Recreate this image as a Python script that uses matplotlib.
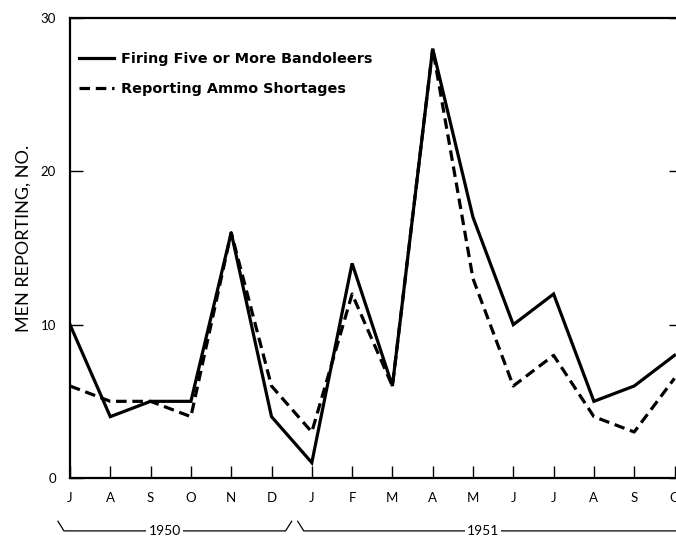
import matplotlib
matplotlib.use("Agg")
import matplotlib.pyplot as plt
from matplotlib.transforms import blended_transform_factory

months = ["J", "A", "S", "O", "N", "D", "J", "F", "M", "A", "M", "J", "J", "A", "S", "O"]
firing = [10, 4, 5, 5, 16, 4, 1, 14, 6, 28, 17, 10, 12, 5, 6, 8]
shortage = [6, 5, 5, 4, 16, 6, 3, 12, 6, 28, 13, 6, 8, 4, 3, 6.5]
yticks = [0, 10, 20, 30]
years = ["1950", "1951"]
label_solid = "Firing Five or More Bandoleers"
label_dash = "Reporting Ammo Shortages"
ylabel = "MEN REPORTING, NO."

W, H = 676, 540
fig = plt.figure(figsize=(W / 100, H / 100), dpi=100)
left, right, top, bottom = 70, 681, 18, 478
ax = fig.add_axes([left / W, (H - bottom) / H, (right - left) / W, (bottom - top) / H])

x = list(range(len(months)))
ax.plot(x, firing, color="black", lw=2.3, solid_joinstyle="miter", label=label_solid)
ax.plot(x, shortage, color="black", lw=2.3, dashes=(3.3, 1.8), label=label_dash)

ax.set_xlim(0, (right - left) / 40.3)
ax.set_ylim(0, 30)
ax.set_xticks(x)
ax.set_xticklabels(months)
ax.set_yticks(yticks)
ax.set_yticklabels([str(v) for v in yticks])

font = "Lato"
for s in ax.spines.values():
    s.set_linewidth(1.6)
ax.tick_params(axis="x", direction="in", length=9, width=1.0, pad=10, labelsize=9.5)
ax.tick_params(axis="y", direction="in", length=9, width=1.0, pad=10, labelsize=9.5, right=True)
for lab in ax.get_xticklabels() + ax.get_yticklabels():
    lab.set_fontfamily(font)

ax.set_ylabel(ylabel, fontsize=13, fontfamily=font)
ax.yaxis.set_label_coords(-0.062, 0.52)

leg = ax.legend(loc="upper left", bbox_to_anchor=(-0.006, 0.955), frameon=False,
                handlelength=2.4, handletextpad=0.45, labelspacing=1.12,
                prop={"family": "DejaVu Sans", "weight": "bold", "size": 10.4})

# year brackets below the axis
tr = blended_transform_factory(ax.transData, ax.transAxes)
yb, ys = -0.115, -0.094
ax.plot([-0.3, -0.15, 5.35, 5.5], [ys, yb, yb, ys], color="black", lw=0.9,
        transform=tr, clip_on=False)
ax.plot([5.65, 5.8, 16], [ys, yb, yb], color="black", lw=0.9,
        transform=tr, clip_on=False)
ax.text(2.35, yb, years[0], transform=tr, ha="center", va="center", fontsize=10,
        fontfamily=font, bbox=dict(fc="white", ec="none", pad=1.5))
ax.text(10.25, yb, years[1], transform=tr, ha="center", va="center", fontsize=10,
        fontfamily=font, bbox=dict(fc="white", ec="none", pad=1.5))

fig.savefig("out.png", dpi=100, facecolor="white")
